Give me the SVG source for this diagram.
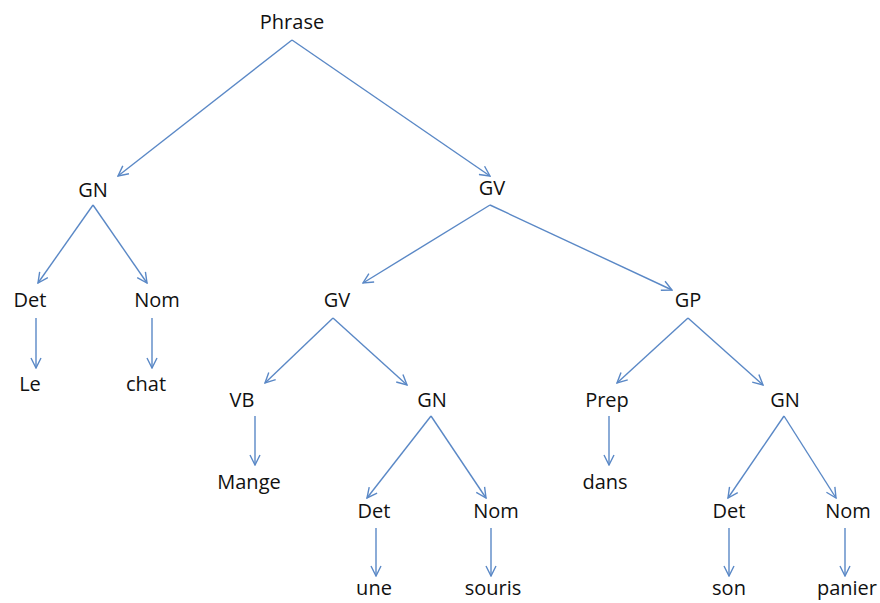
<svg xmlns="http://www.w3.org/2000/svg" width="880" height="603" viewBox="0 0 880 603">
  <style>
    .lbl { font-family: "Open Sans", "Liberation Sans", sans-serif; font-size: 20px; fill: #111111; text-anchor: middle; }
    .edge { stroke: #5a88c6; stroke-width: 1.4; fill: none; marker-end: url(#arr); }
  </style>
  <defs>
    <marker id="arr" viewBox="0 0 12 12" refX="11" refY="6" markerWidth="12" markerHeight="12" markerUnits="userSpaceOnUse" orient="auto">
      <path d="M1,1 L11,6 L1,11" fill="none" stroke="#5a88c6" stroke-width="1.4"/>
    </marker>
  </defs>
  <rect width="880" height="603" fill="#ffffff"/>

  <g id="connectors">
    <path class="edge" d="M292,40 L118,176"/>
    <path class="edge" d="M292,40 L490,176"/>
    <path class="edge" d="M93,205 L38,283"/>
    <path class="edge" d="M93,205 L147,283"/>
    <path class="edge" d="M36,318 L36,368"/>
    <path class="edge" d="M152,318 L152,368"/>
    <path class="edge" d="M490,205 L363,283"/>
    <path class="edge" d="M490,205 L672,290"/>
    <path class="edge" d="M333,318 L265,383"/>
    <path class="edge" d="M333,318 L407,385"/>
    <path class="edge" d="M688,318 L617,383"/>
    <path class="edge" d="M688,318 L763,385"/>
    <path class="edge" d="M255,416 L255,465"/>
    <path class="edge" d="M609,416 L609,465"/>
    <path class="edge" d="M431,416 L367,498"/>
    <path class="edge" d="M431,416 L486,498"/>
    <path class="edge" d="M784,416 L728,498"/>
    <path class="edge" d="M784,416 L836,498"/>
    <path class="edge" d="M376,528 L376,576"/>
    <path class="edge" d="M491,528 L491,576"/>
    <path class="edge" d="M729,528 L729,576"/>
    <path class="edge" d="M845,528 L845,576"/>
  </g>

  <g id="n-phrase"><text class="lbl" x="292" y="29">Phrase</text></g>
  <g id="n-gn1"><text class="lbl" x="93" y="197">GN</text></g>
  <g id="n-gv1"><text class="lbl" x="492" y="195">GV</text></g>
  <g id="n-det1"><text class="lbl" x="30" y="307">Det</text></g>
  <g id="n-nom1"><text class="lbl" x="157" y="307">Nom</text></g>
  <g id="n-le"><text class="lbl" x="30" y="391">Le</text></g>
  <g id="n-chat"><text class="lbl" x="146" y="391">chat</text></g>
  <g id="n-gv2"><text class="lbl" x="337" y="307">GV</text></g>
  <g id="n-gp"><text class="lbl" x="688" y="307">GP</text></g>
  <g id="n-vb"><text class="lbl" x="242" y="407">VB</text></g>
  <g id="n-mange"><text class="lbl" x="249" y="489">Mange</text></g>
  <g id="n-gn2"><text class="lbl" x="432" y="407">GN</text></g>
  <g id="n-prep"><text class="lbl" x="607" y="407">Prep</text></g>
  <g id="n-dans"><text class="lbl" x="605" y="489">dans</text></g>
  <g id="n-gn3"><text class="lbl" x="785" y="407">GN</text></g>
  <g id="n-det2"><text class="lbl" x="374" y="518">Det</text></g>
  <g id="n-nom2"><text class="lbl" x="496" y="518">Nom</text></g>
  <g id="n-une"><text class="lbl" x="374" y="595">une</text></g>
  <g id="n-souris"><text class="lbl" x="493" y="595">souris</text></g>
  <g id="n-det3"><text class="lbl" x="729" y="518">Det</text></g>
  <g id="n-nom3"><text class="lbl" x="848" y="518">Nom</text></g>
  <g id="n-son"><text class="lbl" x="729" y="595">son</text></g>
  <g id="n-panier"><text class="lbl" x="847" y="595">panier</text></g>
</svg>
